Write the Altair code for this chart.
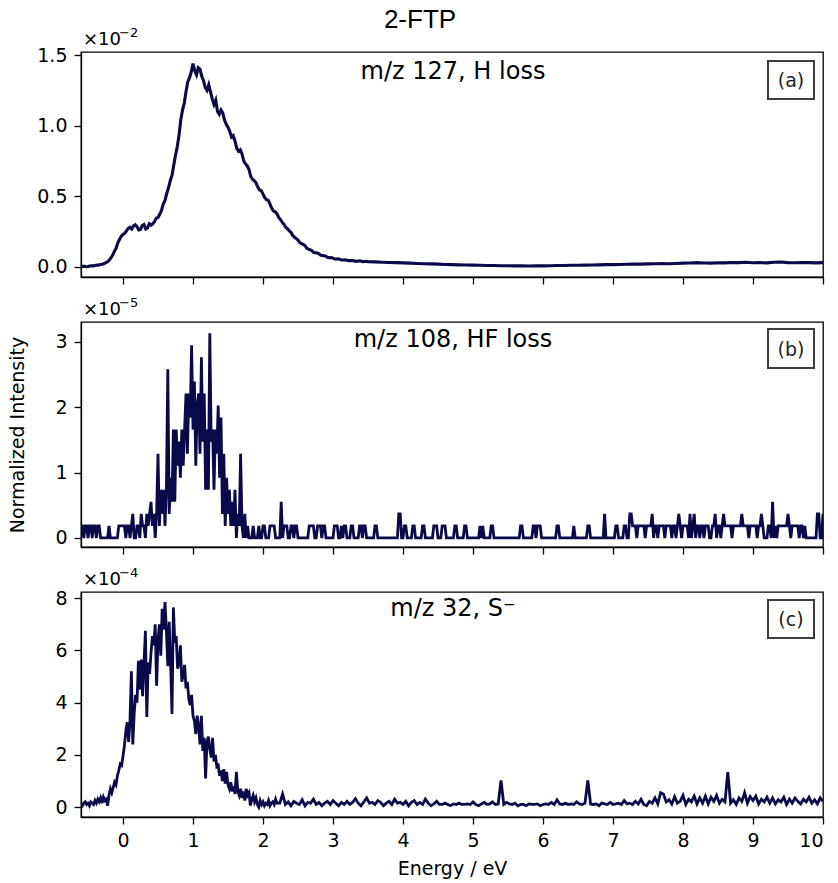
import altair as alt
import numpy as np
import pandas as pd

NAVY = "#0a0a4a"
X_TICKS = [0, 1, 2, 3, 4, 5, 6, 7, 8, 9, 10]

# ---------------- panel (a): m/z 127, H loss  (values x 1e-2) ----------------
A_PEAK_START, A_PEAK_STEP = -0.60, 0.025
A_PEAK = [0.000, 0.004, 0.003, 0.001, 0.002, 0.006, 0.008, 0.007, 0.010, 0.013,
          0.012, 0.016, 0.018, 0.021, 0.028, 0.034, 0.045, 0.062, 0.080, 0.108,
          0.130, 0.168, 0.195, 0.215, 0.230, 0.238, 0.255, 0.272, 0.280, 0.268,
          0.290, 0.298, 0.285, 0.262, 0.265, 0.292, 0.300, 0.268, 0.275, 0.305,
          0.295, 0.305, 0.320, 0.345, 0.350, 0.372, 0.400, 0.445, 0.470, 0.520,
          0.560, 0.610, 0.650, 0.720, 0.790, 0.850, 0.930, 1.040, 1.110, 1.160,
          1.240, 1.310, 1.340, 1.380, 1.440, 1.390, 1.360, 1.410, 1.400, 1.350,
          1.320, 1.270, 1.250, 1.290, 1.240, 1.190, 1.150, 1.180, 1.100, 1.080,
          1.110, 1.090, 1.040, 1.010, 0.990, 0.960, 0.920, 0.930, 0.890, 0.840,
          0.820, 0.830, 0.800, 0.750, 0.730, 0.715, 0.690, 0.640, 0.620, 0.610,
          0.595, 0.565, 0.545, 0.540, 0.515, 0.490, 0.475, 0.470, 0.445, 0.415,
          0.395, 0.390, 0.375, 0.350, 0.335, 0.315, 0.300, 0.280, 0.270, 0.255,
          0.245, 0.222, 0.210, 0.200, 0.190, 0.172, 0.165, 0.158, 0.150, 0.132,
          0.125, 0.120, 0.113, 0.102, 0.100, 0.098, 0.092, 0.082, 0.080, 0.078,
          0.074, 0.066, 0.065, 0.066, 0.062, 0.055, 0.055, 0.056, 0.053, 0.048,
          0.048, 0.050, 0.047, 0.043, 0.044, 0.045, 0.043, 0.039, 0.040, 0.042,
          0.041, 0.037, 0.038, 0.039, 0.037]
A_TAIL_START, A_TAIL_STEP = 3.60, 0.10
A_TAIL = [0.035, 0.033, 0.031, 0.030, 0.028, 0.026, 0.024, 0.022, 0.021, 0.019,
          0.017, 0.016, 0.014, 0.013, 0.012, 0.011, 0.010, 0.009, 0.008, 0.008,
          0.007, 0.007, 0.006, 0.007, 0.007, 0.008, 0.009, 0.010, 0.011, 0.011,
          0.012, 0.013, 0.014, 0.016, 0.016, 0.017, 0.018, 0.020, 0.019, 0.021,
          0.022, 0.023, 0.022, 0.024, 0.026, 0.027, 0.030, 0.027, 0.026, 0.029,
          0.028, 0.031, 0.030, 0.033, 0.029, 0.030, 0.028, 0.032, 0.034, 0.030,
          0.029, 0.031, 0.030, 0.028, 0.030]

# ---------------- panel (b): m/z 108, HF loss  (ion counts, 1 count = 0.184e-5) ----------------
B_UNIT = 0.184
B_STEP = 0.02
B_LEFT_START = -0.60
B_LEFT = "1101101101" "1011000000" "1000000111" "1101101200" "11021"
B_PEAK_START = 0.30
B_PEAK = [1, 0, 2, 1, 2, 3, 1, 2, 0, 2, 7, 1, 4, 2, 4, 1, 4, 14, 2, 5,
          3, 9, 3, 9, 6, 8, 5, 9, 6, 9, 12, 7, 12, 10, 16, 9, 13, 6, 11, 12,
          7, 15, 8, 12, 4, 9, 4, 17, 8, 9, 4, 9, 7, 11, 5, 10, 2, 7, 1, 5,
          2, 4, 1, 3, 1, 4, 0, 2, 1, 7, 1, 0, 2, 0, 1]
B_TAIL_START = 1.80
B_TAIL = ("0001000100" "1100011110" "0003011100" "1101100000" "0001111001"
          "1101100000" "0111001011" "0001100001" "1011000000" "1100000000"
          "0000000220" "0110000110" "0000110000" "0011100011" "1000000110"
          "0000110000" "0000010100" "0001100000" "0000000000" "0000110000"
          "0001101110" "0000000000" "1100000000" "0010000000" "0011000000"
          "0000200000" "0011000011" "0022111011" "1110111120" "1101111011"
          "1101101210" "1111020120" "1101101110" "0112011012" "1111101111"
          "1121111011" "1110112100" "0110301011" "1111121011" "1110110100"
          "0000002200" "2")

# ---------------- panel (c): m/z 32, S-  (values x 1e-4) ----------------
C_PEAK_START, C_PEAK_STEP = -0.60, 0.02
C_PEAK = [0.10, 0.05, 0.15, 0.20, 0.10, 0.15, 0.05, 0.20, 0.15, 0.10,
          0.25, 0.15, 0.30, 0.20, 0.35, 0.15, 0.38, 0.25, 0.30, 0.05,
          0.45, 0.70, 0.55, 0.75, 0.95, 0.85, 1.20, 1.40, 1.65, 1.60,
          1.95, 2.35, 2.90, 3.25, 2.50, 3.30, 5.20, 2.40, 3.60, 4.30,
          4.00, 5.60, 4.50, 5.65, 4.25, 5.50, 6.75, 3.45, 5.55, 5.10,
          5.90, 6.55, 6.20, 7.00, 4.65, 6.40, 7.00, 5.80, 7.60, 6.80,
          7.85, 6.75, 5.40, 7.10, 5.55, 3.57, 7.65, 6.30, 6.55, 5.30,
          5.50, 6.20, 4.80, 5.05, 5.45, 4.55, 4.80, 4.15, 3.90, 4.30,
          3.50, 3.30, 2.80, 3.50, 3.10, 2.40, 3.50, 2.15, 2.65, 1.10,
          2.50, 2.70, 2.20, 1.90, 2.65, 1.75, 2.00, 1.55, 1.60, 1.20,
          1.40, 1.00, 1.45, 0.90, 1.35, 0.85, 0.70, 0.95, 0.60, 0.80,
          0.50, 1.35, 0.60, 0.45, 0.70, 0.35, 0.60, 0.25, 0.70, 0.45,
          0.55, 0.06, 0.30, 0.45, 0.20, 0.35, 0.10, 0.00, 0.25, 0.10,
          0.20, 0.05, 0.15, 0.10, 0.25, 0.05, 0.15, 0.20, 0.10, 0.30,
          0.15]
C_TAIL_START, C_TAIL_STEP = 2.24, 0.04
C_TAIL = [0.15, 0.50, 0.10, 0.20, 0.05, 0.22, 0.15, 0.10, 0.28, 0.05, 0.18, 0.15, 0.30,
          0.10, 0.18, 0.05, 0.15, 0.22, 0.10, 0.25, 0.15, 0.05, 0.18, 0.10, 0.22,
          0.10, 0.18, 0.32, 0.15, 0.05, 0.20, 0.35, 0.15, 0.18, 0.10, 0.25, 0.18, 0.05,
          0.15, 0.22, 0.10, 0.30, 0.15, 0.18, 0.10, 0.22, 0.05, 0.18, 0.25, 0.10,
          0.18, 0.10, 0.30, 0.15, 0.05, 0.12, 0.22, 0.10, 0.10, 0.15, 0.10, 0.05, 0.12,
          0.10, 0.15, 0.10, 0.10, 0.12, 0.10, 0.20, 0.10, 0.05, 0.12, 0.18, 0.10,
          0.12, 0.20, 0.10, 0.12, 1.02, 0.10, 0.18, 0.12, 0.10, 0.15, 0.05, 0.10, 0.10,
          0.05, 0.12, 0.10, 0.10, 0.12, 0.05, 0.10, 0.12, 0.10, 0.18, 0.10, 0.28,
          0.12, 0.10, 0.15, 0.10, 0.12, 0.10, 0.20, 0.12, 0.10, 0.15, 1.02, 0.12, 0.10,
          0.12, 0.05, 0.15, 0.12, 0.10, 0.18, 0.10, 0.12, 0.15, 0.10, 0.25, 0.12,
          0.15, 0.10, 0.22, 0.12, 0.30, 0.10, 0.05, 0.22, 0.15, 0.35, 0.12, 0.55, 0.50,
          0.20, 0.28, 0.12, 0.40, 0.15, 0.22, 0.45, 0.10, 0.30, 0.20, 0.42, 0.12,
          0.35, 0.15, 0.42, 0.12, 0.38, 0.22, 0.45, 0.15, 0.30, 0.20, 1.34, 0.15, 0.28,
          0.10, 0.35, 0.22, 0.55, 0.15, 0.40, 0.25, 0.42, 0.12, 0.30, 0.20, 0.38,
          0.15, 0.35, 0.12, 0.28, 0.20, 0.38, 0.10, 0.30, 0.15, 0.35, 0.22, 0.12, 0.30,
          0.20, 0.38, 0.15, 0.28, 0.12, 0.35, 0.22]


def grid(start, step, n):
    return np.round(start + step * np.arange(n), 4)


def frame(parts):
    xs, ys = [], []
    for start, step, vals in parts:
        xs.extend(grid(start, step, len(vals)))
        ys.extend(vals)
    return pd.DataFrame({"energy": xs, "value": ys})


df_a = frame([(A_PEAK_START, A_PEAK_STEP, A_PEAK), (A_TAIL_START, A_TAIL_STEP, A_TAIL)])
df_b = frame([
    (B_LEFT_START, B_STEP, [int(c) * B_UNIT for c in B_LEFT]),
    (B_PEAK_START, B_STEP, [c * B_UNIT for c in B_PEAK]),
    (B_TAIL_START, B_STEP, [int(c) * B_UNIT for c in B_TAIL]),
])
df_c = frame([(C_PEAK_START, C_PEAK_STEP, C_PEAK), (C_TAIL_START, C_TAIL_STEP, C_TAIL)])

W, H = 742, 225
FONT = "DejaVu Sans"
TICK_SIZE = 19


def txt(text, x, y, size, font, align="center", baseline="middle", color="black", angle=0):
    return alt.Chart(pd.DataFrame({"t": [text]})).mark_text(
        align=align, baseline=baseline, fontSize=size, font=font, color=color, angle=angle
    ).encode(x=alt.value(x), y=alt.value(y), text="t:N")


def box(label, y0, y1):
    rect = alt.Chart(pd.DataFrame({"t": [label]})).mark_rect(
        fill="white", stroke="#3c3c3c", strokeWidth=2
    ).encode(x=alt.value(687), x2=alt.value(733), y=alt.value(y0), y2=alt.value(y1))
    t = txt(label, 710, (y0 + y1) / 2 + 1, 19, FONT, color="#222222")
    return rect + t


def offset_text(exponent):
    base = txt("×10", 2, -7, 18, FONT, align="left", baseline="alphabetic")
    sup = txt("−" + exponent, 38, -15, 13, FONT, align="left", baseline="alphabetic")
    return base + sup


def panel(df, ydom, yticks, yfmt, exponent, label, label_y, tag, bottom=False,
          ytitle=None, width=2.8):
    xaxis = alt.Axis(values=X_TICKS, labels=bottom, title="Energy / eV" if bottom else None,
                     tickSize=7, labelPadding=7, titlePadding=9, titleFontSize=19,
                     titleFont=FONT, titleFontWeight="normal", grid=False)
    yaxis = alt.Axis(values=yticks, format=yfmt, tickSize=7, labelPadding=7, grid=False,
                     title=ytitle if ytitle else None, titleFontSize=19, titleFont=FONT,
                     titleFontWeight="normal", titlePadding=27)
    line = alt.Chart(df).mark_line(color=NAVY, strokeWidth=width, clip=True).encode(
        x=alt.X("energy:Q", scale=alt.Scale(domain=[-0.6, 10], nice=False, zero=False), axis=xaxis),
        y=alt.Y("value:Q", scale=alt.Scale(domain=ydom, nice=False, zero=False), axis=yaxis),
    )
    layers = [line,
              offset_text(exponent),
              txt(label, 372, label_y, 24, FONT),
              box(*tag)]
    return alt.layer(*layers).properties(width=W, height=H)


pa = panel(df_a, [-0.072, 1.522], [0.0, 0.5, 1.0, 1.5], ".1f", "2",
           "m/z 127, H loss", 20, ("(a)", 9, 47), width=3.1)
pa = alt.layer(pa, txt("2-FTP", 339, -32, 26, "Liberation Sans"))
pb = panel(df_b, [-0.138, 3.30], [0, 1, 2, 3], "d", "5",
           "m/z 108, HF loss", 18, ("(b)", 7, 46), ytitle="Normalized Intensity")
pc = panel(df_c, [-0.38, 8.24], [0, 2, 4, 6, 8], "d", "4",
           "m/z 32, S⁻", 17, ("(c)", 8, 46), bottom=True)

chart = alt.vconcat(pa, pb, pc, spacing=45, bounds="flush").properties(
    padding={"left": 8, "top": 6, "right": 2, "bottom": 4},
    background="white",
).configure_view(
    stroke="black", strokeWidth=1.3
).configure_axis(
    labelFont=FONT, labelFontSize=TICK_SIZE, labelColor="black",
    tickColor="black", domainColor="black", domainWidth=1.3, tickWidth=1.3,
)

chart.save("out.html", embed_options={"renderer": "svg", "actions": False})
